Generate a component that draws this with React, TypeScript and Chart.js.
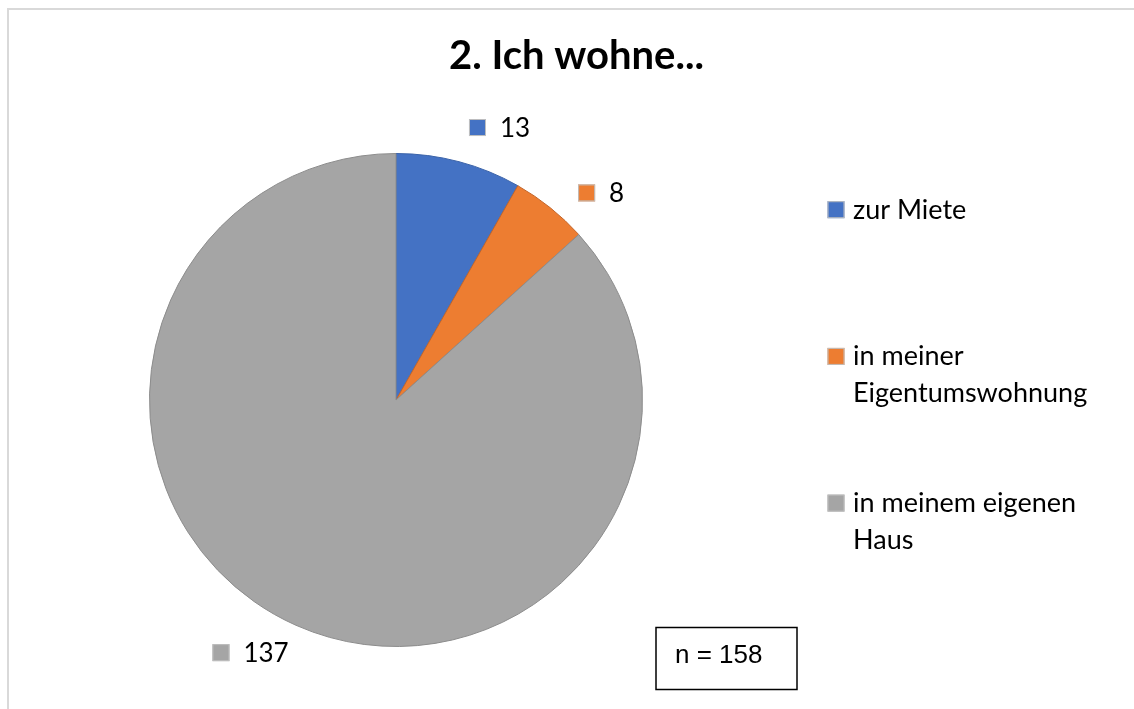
import { useEffect, useRef } from "react";
import { Chart, registerables } from "chart.js";

Chart.register(...registerables);

const TITLE = "2. Ich wohne...";
const CATEGORIES = ["zur Miete", "in meiner Eigentumswohnung", "in meinem eigenen Haus"];
const COUNTS = [13, 8, 137];
const COLORS = ["#4472C4", "#ED7D31", "#A5A5A5"];
const BORDER_COLORS = ["#3A62A8", "#C2652A", "#8C8C8C"];
const NOTE = "n = 158";

const FONT = "Lato, 'Open Sans', sans-serif";
const LABEL_SIZE = 26;
const LEGEND_SIZE = 27;
const TITLE_SIZE = 40;

function wrapText(ctx: CanvasRenderingContext2D, text: string, maxW: number): string[] {
  const words = text.split(" ");
  const lines: string[] = [];
  let cur = "";
  for (const w of words) {
    const test = cur ? cur + " " + w : w;
    if (ctx.measureText(test).width > maxW && cur) {
      lines.push(cur);
      cur = w;
    } else {
      cur = test;
    }
  }
  if (cur) lines.push(cur);
  return lines;
}

const decorPlugin = {
  id: "decor",
  afterDraw(chart: any) {
    const ctx: CanvasRenderingContext2D = chart.ctx;
    ctx.save();

    // outer frame
    ctx.strokeStyle = "#d9d9d9";
    ctx.lineWidth = 2;
    ctx.strokeRect(8, 9, 3000, 3000);

    // title
    ctx.fillStyle = "#000";
    ctx.font = `bold ${TITLE_SIZE}px ${FONT}`;
    ctx.textAlign = "center";
    ctx.textBaseline = "alphabetic";
    ctx.fillText(TITLE, 576.5, 69);

    // data labels
    const meta = chart.getDatasetMeta(0);
    const values: number[] = chart.data.datasets[0].data;
    ctx.font = `${LABEL_SIZE}px ${FONT}`;
    ctx.textAlign = "left";
    meta.data.forEach((arc: any, i: number) => {
      const p = arc.getProps(["x", "y", "startAngle", "endAngle", "outerRadius"], true);
      const mid = (p.startAngle + p.endAngle) / 2 + (6 * Math.PI) / 180;
      const d = p.outerRadius + 45;
      const cx = p.x + d * Math.cos(mid);
      const cy = p.y + d * Math.sin(mid);
      const txt = String(values[i]);
      const tw = ctx.measureText(txt).width;
      const sq = 17;
      const gap = 14;
      const w = sq + gap + tw;
      const left = cx - w / 2;
      ctx.fillStyle = COLORS[i];
      ctx.fillRect(left, cy - sq / 2, sq, sq);
      ctx.strokeStyle = "#bfbfbf";
      ctx.lineWidth = 1;
      ctx.strokeRect(left + 0.5, cy - sq / 2 + 0.5, sq - 1, sq - 1);
      ctx.fillStyle = "#000";
      ctx.fillText(txt, left + sq + gap, cy + 9);
    });

    // legend
    ctx.font = `${LEGEND_SIZE}px ${FONT}`;
    const lx = 827.5;
    const firstY = 209.7;
    const step = 146.7;
    const lineH = 36.7;
    chart.data.labels.forEach((lab: string, i: number) => {
      const cy = firstY + i * step;
      const sq = 17;
      ctx.fillStyle = COLORS[i];
      ctx.fillRect(lx, cy - sq / 2, sq, sq);
      ctx.strokeStyle = "#bfbfbf";
      ctx.lineWidth = 1;
      ctx.strokeRect(lx + 0.5, cy - sq / 2 + 0.5, sq - 1, sq - 1);
      ctx.fillStyle = "#000";
      const lines = wrapText(ctx, lab, 272);
      lines.forEach((ln, j) => {
        ctx.fillText(ln, lx + 25.5, cy + 9 + j * lineH);
      });
    });

    // n box
    ctx.strokeStyle = "#000";
    ctx.lineWidth = 1.5;
    ctx.strokeRect(656, 627.5, 141, 62);
    ctx.fillStyle = "#000";
    ctx.font = `26px 'Liberation Sans', Arial, sans-serif`;
    ctx.textAlign = "left";
    ctx.fillText(NOTE, 675, 663);

    ctx.restore();
  },
};

export default function App() {
  const ref = useRef<HTMLCanvasElement | null>(null);
  useEffect(() => {
    if (!ref.current) return;
    const chart = new Chart(ref.current, {
      type: "pie",
      data: {
        labels: CATEGORIES,
        datasets: [
          {
            data: COUNTS,
            backgroundColor: COLORS,
            borderColor: BORDER_COLORS,
            borderWidth: 1,
          },
        ],
      },
      options: {
        animation: false,
        responsive: false,
        layout: { padding: { left: 149, right: 491, top: 153, bottom: 62 } },
        plugins: {
          legend: { display: false },
          title: { display: false },
          tooltip: { enabled: false },
        },
      },
      plugins: [decorPlugin],
    });
    return () => chart.destroy();
  }, []);
  return (
    <div style={{ position: "fixed", left: 0, top: 0, width: 1134, height: 709, background: "#fff" }}>
      <canvas ref={ref} width={1134} height={709} style={{ display: "block", width: 1134, height: 709 }} />
    </div>
  );
}
